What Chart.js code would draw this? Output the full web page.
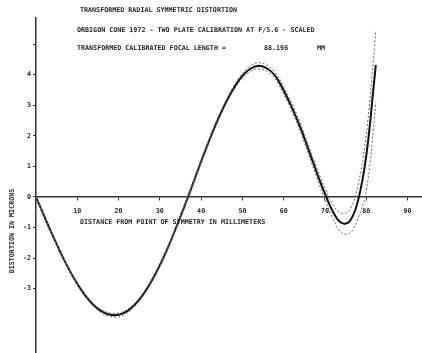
<!DOCTYPE html>
<html lang="en">
<head>
  <meta charset="UTF-8" />
  <title>Transformed Radial Symmetric Distortion</title>
  <style>
    * {
      box-sizing: border-box;
      margin: 0;
      padding: 0;
    }

    body {
      background-color: #ffffff;
    }

    #chartContainer {
      position: relative;
      width: 422px;
      height: 353px;
    }
  </style>
</head>
<body>
  <div id="chartContainer">
    <canvas id="distortionChart"></canvas>
  </div>

  <script src="https://cdn.jsdelivr.net/npm/chart.js"></script>
  <script>
    // radial distance from point of symmetry (mm)
    const radius = [0, 2, 4, 6, 8, 10, 12, 14, 16, 18, 20, 22, 24, 26, 28, 30, 32, 34, 36, 38, 40,
      42, 44, 46, 48, 50, 52, 54, 56, 58, 60, 62, 64, 66, 68, 70, 72, 74, 76, 78, 80, 82, 82.3];

    // distortion in microns
    const distortion = [0, -0.63, -1.25, -1.83, -2.37, -2.84, -3.23, -3.54, -3.75, -3.85, -3.85,
      -3.74, -3.51, -3.18, -2.75, -2.23, -1.64, -0.98, -0.29, 0.43, 1.16,
      1.86, 2.51, 3.09, 3.58, 3.96, 4.20, 4.29, 4.20, 3.95, 3.48, 2.92, 2.28, 1.55, 0.80, 0.10,
      -0.50, -0.85, -0.79, -0.12, 1.35, 3.90, 4.32];

    // upper / lower limits
    const upperLimit = [0, -0.62, -1.24, -1.81, -2.35, -2.81, -3.20, -3.50, -3.70, -3.80, -3.79,
      -3.68, -3.46, -3.13, -2.71, -2.19, -1.60, -0.94, -0.25, 0.47, 1.21,
      1.91, 2.57, 3.15, 3.65, 4.04, 4.29, 4.39, 4.30, 4.06, 3.60, 3.05, 2.42, 1.70, 0.96, 0.28,
      -0.27, -0.53, -0.42, 0.38, 2.05, 4.90, 5.45];

    const lowerLimit = [0, -0.64, -1.26, -1.85, -2.39, -2.87, -3.27, -3.58, -3.80, -3.91, -3.91,
      -3.80, -3.56, -3.23, -2.79, -2.27, -1.68, -1.02, -0.33, 0.39, 1.11,
      1.81, 2.45, 3.03, 3.51, 3.88, 4.11, 4.19, 4.10, 3.84, 3.36, 2.79, 2.14, 1.40, 0.64, -0.08,
      -0.73, -1.17, -1.18, -0.70, 0.20, 2.60, 3.10];

    const xTicks = [10, 20, 30, 40, 50, 60, 70, 80, 90];
    const yTicks = [-3, -2, -1, 0, 1, 2, 3, 4, 5];
    const yLabelled = [-3, -2, -1, 0, 1, 2, 3, 4];

    const titleLines = [
      'TRANSFORMED RADIAL SYMMETRIC DISTORTION',
      'ORBIGON CONE 1972 - TWO PLATE CALIBRATION AT F/5.6 - SCALED',
      'TRANSFORMED CALIBRATED FOCAL LENGTH ='
    ];
    const focalLength = '88.196';
    const focalUnit = 'MM';
    const xTitle = 'DISTANCE FROM POINT OF SYMMETRY IN MILLIMETERS';
    const yTitle = 'DISTORTION IN MICRONS';

    const plotFont = 'bold 6.7px "DejaVu Sans Mono"';
    const ink = '#222';

    const toPoints = values => radius.map((r, i) => ({ x: r, y: values[i] }));

    // captions drawn straight onto the canvas
    const captions = {
      id: 'captions',
      afterDraw(chart) {
        const ctx = chart.ctx;
        ctx.save();
        ctx.font = plotFont;
        ctx.fillStyle = ink;
        ctx.textBaseline = 'middle';
        ctx.textAlign = 'left';
        ctx.fillText(titleLines[0], 80, 10);
        ctx.fillText(titleLines[1], 77, 30);
        ctx.fillText(titleLines[2], 77, 48);
        ctx.fillText(focalLength, 264, 48);
        ctx.fillText(focalUnit, 317, 48);
        ctx.fillText(xTitle, 80, 222);

        ctx.translate(12, 231);
        ctx.rotate(-Math.PI / 2);
        ctx.textAlign = 'center';
        ctx.fillText(yTitle, 0, 0);
        ctx.restore();
      }
    };

    const ctx = document.getElementById('distortionChart').getContext('2d');
    const distortionChart = new Chart(ctx, {
      type: 'line',
      data: {
        datasets: [
          {
            label: 'Upper',
            data: toPoints(upperLimit),
            borderColor: '#666',
            borderWidth: 1,
            borderDash: [2, 2],
            pointRadius: 0,
            tension: 0.4
          },
          {
            label: 'Lower',
            data: toPoints(lowerLimit),
            borderColor: '#666',
            borderWidth: 1,
            borderDash: [2, 2],
            pointRadius: 0,
            tension: 0.4
          },
          {
            label: 'Distortion',
            data: toPoints(distortion),
            borderColor: '#111',
            borderWidth: 2,
            pointRadius: 0,
            tension: 0.4
          }
        ]
      },
      options: {
        responsive: true,
        maintainAspectRatio: false,
        animation: false,
        layout: { padding: { top: 18, left: 0, right: 0, bottom: 0 } },
        plugins: {
          legend: { display: false },
          tooltip: { enabled: false }
        },
        scales: {
          x: {
            type: 'linear',
            position: { y: 0 },
            min: 0,
            max: 93.5,
            afterBuildTicks: scale => { scale.ticks = xTicks.map(v => ({ value: v })); },
            afterFit: scale => { scale.paddingLeft = 0; scale.paddingRight = 0; },
            grid: { drawOnChartArea: false, tickLength: 3, color: '#333' },
            border: { color: '#333', width: 1.5 },
            ticks: {
              color: ink,
              padding: 7,
              maxRotation: 0,
              font: { family: 'DejaVu Sans Mono', size: 6.7, weight: 'bold' }
            }
          },
          y: {
            type: 'linear',
            position: 'left',
            min: -5.1,
            max: 5.85,
            afterBuildTicks: scale => { scale.ticks = yTicks.map(v => ({ value: v })); },
            afterFit: scale => {
              scale.width = 36;
              scale.paddingTop = 0;
              scale.paddingBottom = 0;
            },
            grid: { drawOnChartArea: false, tickLength: 3, color: '#333' },
            border: { color: '#333', width: 1.5 },
            ticks: {
              color: ink,
              padding: 2,
              font: { family: 'DejaVu Sans Mono', size: 6.7, weight: 'bold' },
              callback: v => (yLabelled.includes(v) ? String(v) : '')
            }
          }
        }
      },
      plugins: [captions]
    });
  </script>
</body>
</html>
